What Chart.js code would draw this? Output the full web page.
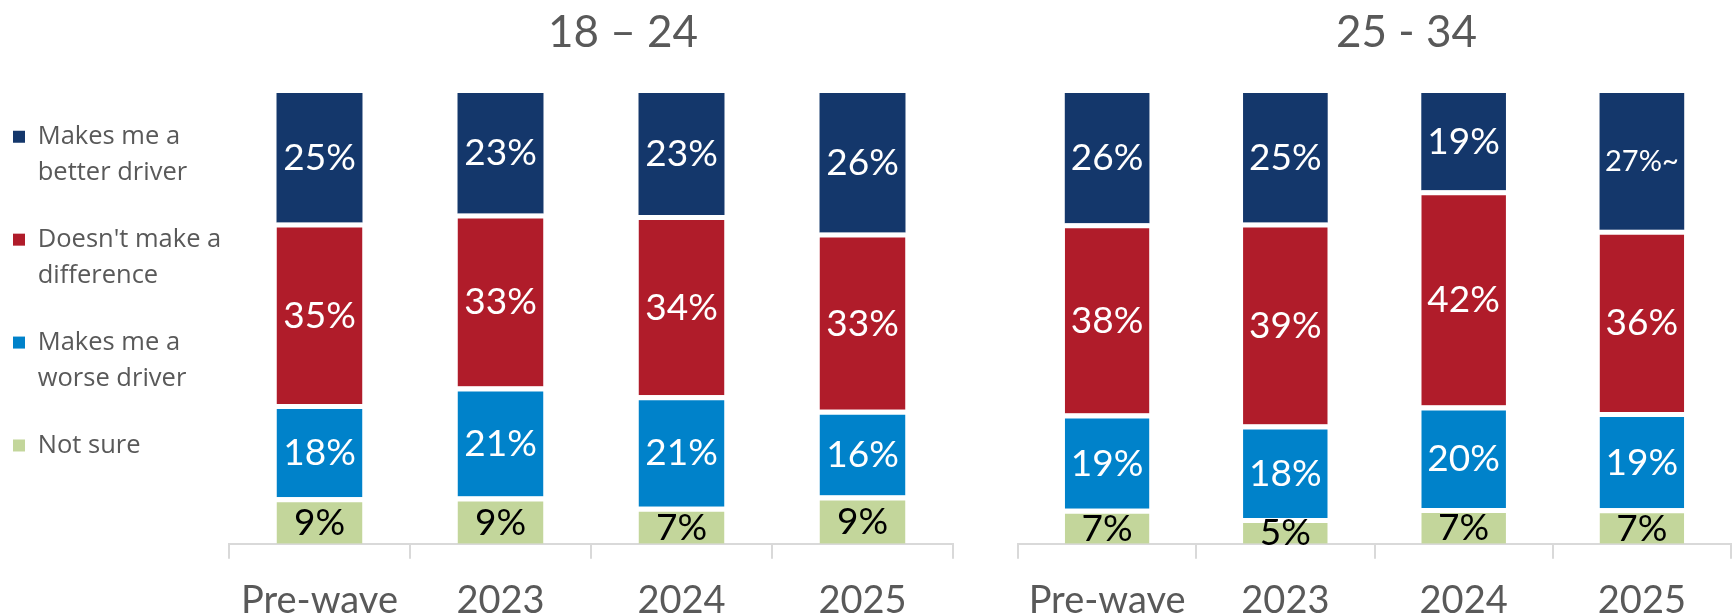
<!DOCTYPE html>
<html>
<head>
<meta charset="utf-8">
<script src="https://cdn.jsdelivr.net/npm/chart.js@4.4.1/dist/chart.umd.min.js"></script>
<style>
  html, body { margin: 0; padding: 0; background: #fff; }
  body { width: 1734px; height: 615px; position: relative; overflow: hidden; }
  canvas { position: absolute; top: 0; }
  #young { left: 0; }
  #older { left: 990px; }
</style>
</head>
<body>
<canvas id="young" width="960" height="615"></canvas>
<canvas id="older" width="744" height="615"></canvas>
<script>
'use strict';

// Survey waves (x axis)
const categories = ['Pre-wave', '2023', '2024', '2025'];

// 18 - 24 year olds (percent of respondents)
const better1824 = [25, 23, 23, 26];
const noDiff1824 = [35, 33, 34, 33];
const worse1824 = [18, 21, 21, 16];
const notSure1824 = [9, 9, 7, 9];

// 25 - 34 year olds
const better2534 = [26, 25, 19, 27];
const noDiff2534 = [38, 39, 42, 36];
const worse2534 = [19, 18, 20, 19];
const notSure2534 = [7, 5, 7, 7];
// significance marker printed after a value
const betterNote2534 = ['', '', '', '~'];

/**
 * Series display configuration, bottom of the stack first
 */
const SERIES = [
  { key: 'notSure', label: ['Not sure'], color: '#c3d69b', text: '#000000' },
  { key: 'worse', label: ['Makes me a', 'worse driver'], color: '#0082ca', text: '#ffffff' },
  { key: 'noDiff', label: ["Doesn't make a", 'difference'], color: '#b01c2a', text: '#ffffff' },
  { key: 'better', label: ['Makes me a', 'better driver'], color: '#14376b', text: '#ffffff' },
];

const GREY = '#595959';
const AXIS_GREY = '#d9d9d9';
const GAP = 5; // white gap between stacked segments

/**
 * Build 100% stacked datasets for one age group
 */
function buildDatasets(group) {
  const totals = categories.map((_, i) =>
    SERIES.reduce((sum, cfg) => sum + group[cfg.key][i], 0));

  return SERIES.map((cfg, si) => ({
    label: cfg.label,
    data: group[cfg.key].map((v, i) => (v / totals[i]) * 100),
    rawValues: group[cfg.key],
    notes: (group.notes && group.notes[cfg.key]) || [],
    textColor: cfg.text,
    backgroundColor: cfg.color,
    borderColor: '#ffffff',
    borderWidth: { top: si === SERIES.length - 1 ? 0 : GAP, bottom: 0, left: 0, right: 0 },
    borderSkipped: false,
    barPercentage: 0.475,
    categoryPercentage: 1,
  }));
}

// Value labels drawn in the middle of every segment
const barLabels = {
  id: 'barLabels',
  afterDatasetsDraw(chart) {
    const { ctx } = chart;
    ctx.save();
    ctx.textAlign = 'center';
    ctx.textBaseline = 'middle';
    chart.data.datasets.forEach((ds, di) => {
      const meta = chart.getDatasetMeta(di);
      const gap = ds.borderWidth.top || 0;
      meta.data.forEach((bar, i) => {
        const { x, y, base } = bar.getProps(['x', 'y', 'base'], true);
        const note = ds.notes[i] || '';
        ctx.font = `${note ? 29 : 37}px Lato`;
        ctx.fillStyle = ds.textColor;
        ctx.fillText(`${ds.rawValues[i]}%${note}`, x, (y + gap + base) / 2);
      });
    });
    ctx.restore();
  },
};

// Group heading above each panel
const groupTitle = {
  id: 'groupTitle',
  afterDraw(chart, args, opts) {
    const { ctx, chartArea } = chart;
    ctx.save();
    ctx.font = `${opts.size}px Lato`;
    ctx.fillStyle = GREY;
    ctx.textAlign = 'center';
    ctx.textBaseline = 'middle';
    ctx.fillText(opts.text, (chartArea.left + chartArea.right) / 2 + opts.offsetX, opts.y);
    ctx.restore();
  },
};

function makeOptions({ title, padding, showLegend }) {
  return {
    responsive: false,
    animation: false,
    layout: { padding },
    scales: {
      x: {
        stacked: true,
        grid: {
          drawOnChartArea: false,
          drawTicks: true,
          tickLength: 15,
          color: AXIS_GREY,
          lineWidth: 2,
        },
        border: { color: AXIS_GREY, width: 2 },
        ticks: {
          color: GREY,
          padding: 25,
          font: { family: 'Lato', size: 38, lineHeight: 0.9 },
        },
      },
      y: {
        stacked: true,
        display: false,
        min: 0,
        max: 100,
      },
    },
    plugins: {
      tooltip: { enabled: false },
      groupTitle: { text: title, size: 44, y: 33, offsetX: 32 },
      legend: {
        display: showLegend,
        position: 'left',
        align: 'start',
        reverse: true,
        maxWidth: 247,
        labels: {
          boxWidth: 12,
          boxHeight: 12,
          padding: 31,
          color: GREY,
          font: { family: 'Open Sans', size: 25.5, lineHeight: 1.41 },
          generateLabels: (chart) =>
            Chart.defaults.plugins.legend.labels.generateLabels(chart).map((item) => ({
              ...item,
              lineWidth: 0,
              strokeStyle: item.fillStyle,
            })),
        },
      },
    },
  };
}

new Chart(document.getElementById('young'), {
  type: 'bar',
  data: {
    labels: categories,
    datasets: buildDatasets({
      better: better1824, noDiff: noDiff1824, worse: worse1824, notSure: notSure1824,
    }),
  },
  options: makeOptions({
    title: '18 – 24',
    padding: { top: 93, bottom: -28, left: -18, right: 7 },
    showLegend: true,
  }),
  plugins: [barLabels, groupTitle],
});

new Chart(document.getElementById('older'), {
  type: 'bar',
  data: {
    labels: categories,
    datasets: buildDatasets({
      better: better2534, noDiff: noDiff2534, worse: worse2534, notSure: notSure2534,
      notes: { better: betterNote2534 },
    }),
  },
  options: makeOptions({
    title: '25 - 34',
    padding: { top: 93, bottom: -28, left: 28, right: 3 },
    showLegend: false,
  }),
  plugins: [barLabels, groupTitle],
});
</script>
</body>
</html>
